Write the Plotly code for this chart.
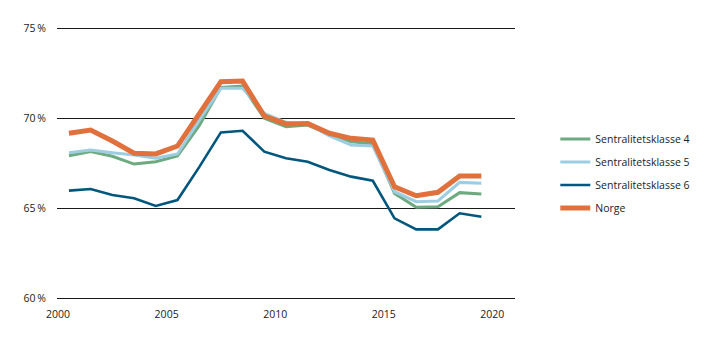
import plotly.graph_objects as go

years = [2000.5 + i for i in range(20)]
klasse4 = [67.93, 68.16, 67.9, 67.47, 67.6, 67.92, 69.6, 71.73, 71.8, 70.01,
           69.55, 69.64, 69.1, 68.71, 68.6, 65.84, 65.07, 65.1, 65.88, 65.8]
klasse5 = [68.1, 68.25, 68.1, 67.97, 67.79, 68.03, 69.9, 71.68, 71.68, 70.29,
           69.79, 69.7, 69.03, 68.53, 68.47, 65.93, 65.38, 65.42, 66.45, 66.4]
klasse6 = [65.99, 66.08, 65.75, 65.57, 65.14, 65.47, 67.3, 69.23, 69.32, 68.16,
           67.79, 67.6, 67.14, 66.77, 66.54, 64.45, 63.84, 63.84, 64.73, 64.54]
norge = [69.18, 69.36, 68.75, 68.07, 68.03, 68.47, 70.26, 72.05, 72.08, 70.14,
         69.7, 69.73, 69.18, 68.9, 68.8, 66.21, 65.71, 65.9, 66.81, 66.81]

names = ["Sentralitetsklasse 4", "Sentralitetsklasse 5", "Sentralitetsklasse 6", "Norge"]
colors = ["#6DAA80", "#9DCDE0", "#00567C", "#E0703C"]
widths = [3, 3, 2.6, 5]
series = [klasse4, klasse5, klasse6, norge]

ytick_vals = [60, 65, 70, 75]
ytick_text = ["60\u2009%", "65\u2009%", "70\u2009%", "75\u2009%"]
xtick_vals = [2000, 2005, 2010, 2015, 2020]

fig = go.Figure()
for n, c, w, s in zip(names, colors, widths, series):
    fig.add_trace(go.Scatter(x=years, y=s, name=n, mode="lines",
                             line=dict(color=c, width=w), legendgroup=n))

fig.update_layout(
    width=720, height=341,
    margin=dict(l=57, r=205, t=25, b=39),
    paper_bgcolor="white", plot_bgcolor="white",
    font=dict(family="Open Sans", size=10.5, color="#222222"),
    legend=dict(x=1.088, xanchor="left", xref="paper", y=0.464, yanchor="middle",
                tracegroupgap=4, font=dict(size=10.5, color="#222222"),
                borderwidth=0, bgcolor="rgba(0,0,0,0)"),
    showlegend=True,
)
fig.update_xaxes(range=[1999.95, 2021.05], tickvals=xtick_vals,
                 showgrid=False, zeroline=False, showline=False,
                 ticks="", ticklabelstandoff=4)
fig.update_yaxes(range=[59.8, 75.2], tickvals=ytick_vals, ticktext=ytick_text,
                 showgrid=True, gridcolor="#1a1a1a", gridwidth=1,
                 zeroline=False, showline=False, ticks="", ticklabelstandoff=10)

fig.write_html("out.html")
